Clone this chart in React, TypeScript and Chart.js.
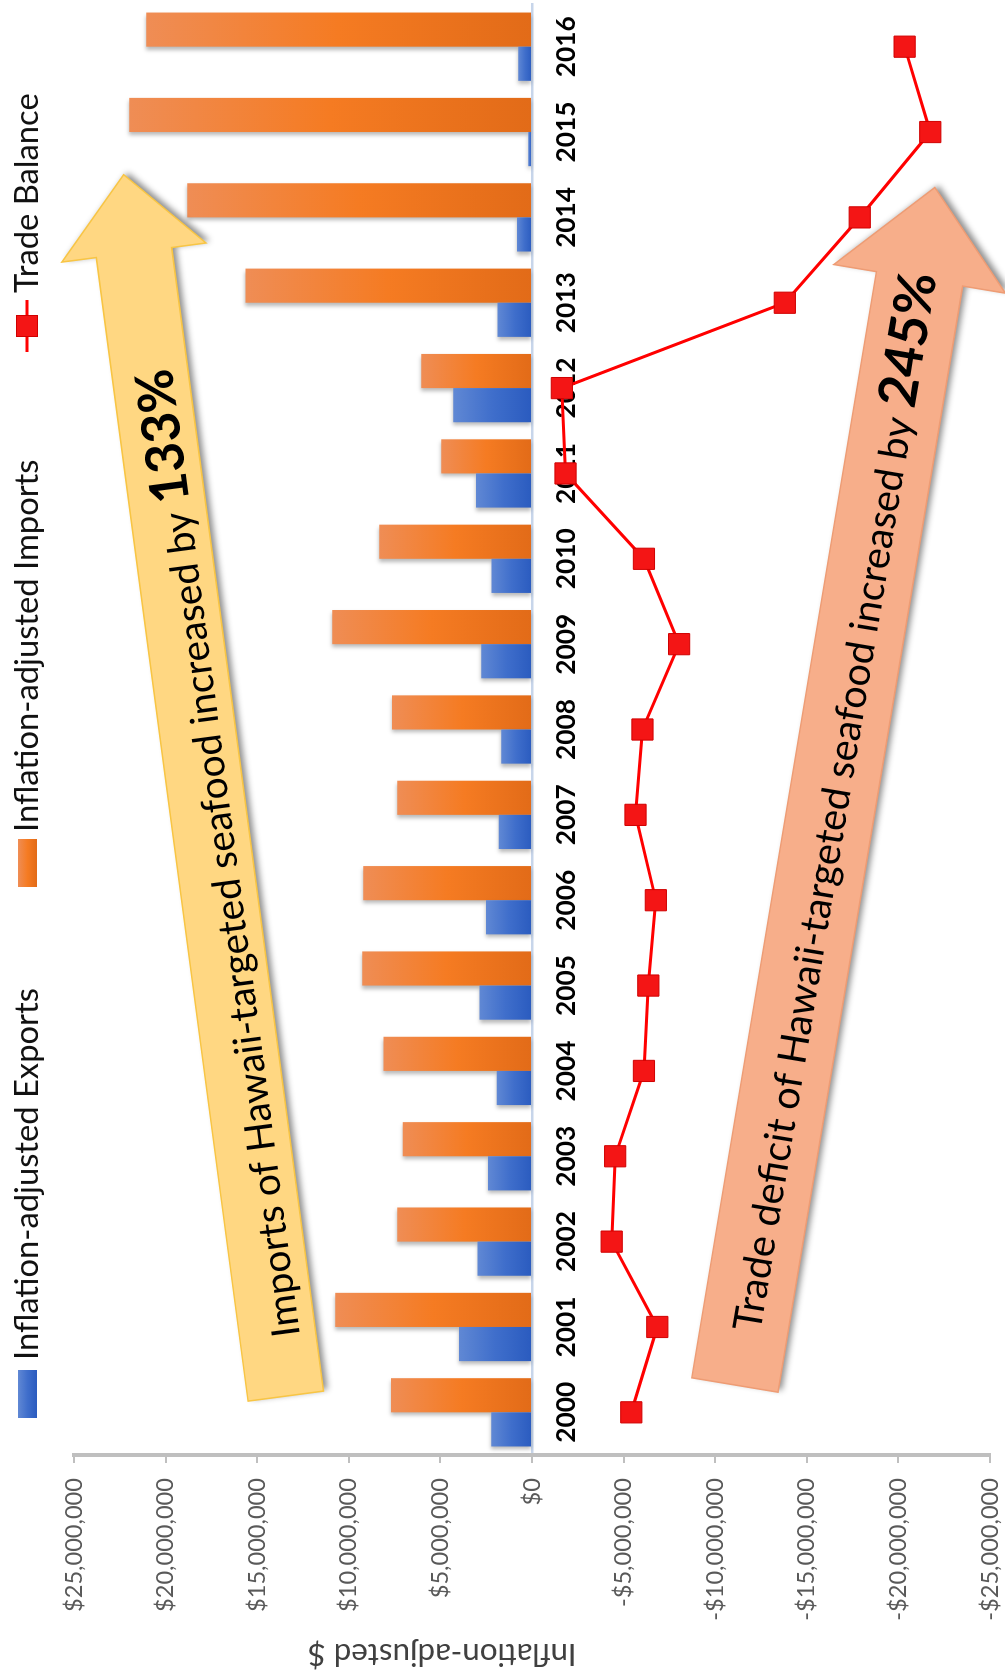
import React, { useEffect, useRef } from 'react';
import { Chart, registerables } from 'chart.js';

Chart.register(...registerables);

// ---------------- data ----------------
const YEARS = ['2000', '2001', '2002', '2003', '2004', '2005', '2006', '2007', '2008', '2009', '2010', '2011', '2012', '2013', '2014', '2015', '2016'];
const EXPORTS = [2220000, 3990000, 2970000, 2400000, 1930000, 2860000, 2510000, 1810000, 1680000, 2770000, 2210000, 3050000, 4300000, 1880000, 820000, 200000, 750000];
const IMPORTS = [7690000, 10740000, 7360000, 7060000, 8110000, 9270000, 9210000, 7350000, 7640000, 10900000, 8340000, 4960000, 6040000, 15640000, 18820000, 21980000, 21060000];
const TRADE_BALANCE = [-5420000, -6840000, -4350000, -4540000, -6110000, -6350000, -6760000, -5650000, -6030000, -8030000, -6110000, -1830000, -1630000, -13800000, -17890000, -21740000, -20340000];
const SERIES_NAMES = ['Inflation-adjusted Exports', 'Inflation-adjusted Imports', 'Trade Balance'];
const VALUE_TICKS = [-25000000, -20000000, -15000000, -10000000, -5000000, 0, 5000000, 10000000, 15000000, 20000000, 25000000];
const AXIS_TITLE = 'Inflation-adjusted $';

// annotation arrows (anchored in data space: [category index, value])
const ARROW_TEXTS = ['Imports of Hawaii-targeted seafood increased by ', 'Trade deficit of Hawaii-targeted seafood increased by '];
const ARROW_HIGHLIGHTS = ['133%', '245%'];
const ARROW_TAILS = [[0.19, 13440000], [0.32, -11080000]];
const ARROW_TIPS = [[14.5, 22290000], [14.35, -21990000]];

// ---------------- style ----------------
const FAMILY = 'Lato, "Open Sans", "DejaVu Sans", sans-serif';
const CANVAS_W = 1675;
const CANVAS_H = 1005;
const PLOT_LEFT = 220;

const BLUE_STOPS = ['#6088D4', '#3F6ECB', '#2A5BBF'];
const ORANGE_STOPS = ['#EF8D55', '#F57B22', '#E26B18'];

const ARROW_STYLES = [
  { fill: '#FFD782', stroke: '#F8C544', halfShaft: 38, halfHead: 72.7, headLen: 78.5, textStart: 58.5, textShift: 8, regLen: 842, boldLen: 134.7 },
  { fill: '#F7AE8A', stroke: '#EE9C74', halfShaft: 43.7, halfHead: 87, headLen: 92.6, textStart: 55.8, textShift: 2, regLen: 936, boldLen: 136 },
];

const LEGEND = {
  boxStart: [257, 788, 1323],
  textStart: [315, 843, 1382],
  boxLen: 48,
  boxTop: 18,
  boxThick: 19,
  centerY: 27,
  baseline: 38,
  textLen: 372,
};

const TITLE_POS = { x: 21, y: 442, len: 269 };

function fitSize(text: string, weight: string, target: number): number {
  const c = document.createElement('canvas').getContext('2d') as CanvasRenderingContext2D;
  c.font = `${weight} 100px ${FAMILY}`;
  return (100 * target) / c.measureText(text).width;
}

function fmtMoney(v: number): string {
  if (v === 0) return '$0';
  return (v < 0 ? '-$' : '$') + Math.abs(v).toLocaleString('en-US');
}

function barGradient(stops: string[]) {
  return (c: any) => {
    const chart = c.chart;
    if (!chart.chartArea || c.type !== 'data' || !chart.scales.y) return stops[1];
    const ys = chart.scales.y;
    const y0 = ys.getPixelForValue(0);
    const y1 = ys.getPixelForValue(c.raw as number);
    if (!isFinite(y0) || !isFinite(y1) || Math.abs(y1 - y0) < 1) return stops[1];
    const g = chart.ctx.createLinearGradient(0, y1, 0, y0);
    g.addColorStop(0, stops[0]);
    g.addColorStop(0.5, stops[1]);
    g.addColorStop(1, stops[2]);
    return g;
  };
}

const decorPlugin = {
  id: 'decor',
  beforeDatasetDraw(chart: any, args: any) {
    const ctx = chart.ctx;
    ctx.save();
    if (args.meta.type === 'bar') {
      ctx.shadowColor = 'rgba(0,0,0,0.28)';
      ctx.shadowBlur = 4;
      ctx.shadowOffsetX = -3;
      ctx.shadowOffsetY = 0;
    }
  },
  afterDatasetDraw(chart: any) {
    chart.ctx.restore();
  },
  afterDatasetsDraw(chart: any) {
    const ctx: CanvasRenderingContext2D = chart.ctx;
    const xs = chart.scales.x;
    const ys = chart.scales.y;
    ARROW_TEXTS.forEach((txt, i) => {
      const st = ARROW_STYLES[i];
      const T = { x: xs.getPixelForValue(ARROW_TAILS[i][0]), y: ys.getPixelForValue(ARROW_TAILS[i][1]) };
      const P = { x: xs.getPixelForValue(ARROW_TIPS[i][0]), y: ys.getPixelForValue(ARROW_TIPS[i][1]) };
      const dx = P.x - T.x;
      const dy = P.y - T.y;
      const len = Math.hypot(dx, dy);
      const ux = dx / len;
      const uy = dy / len;
      const nx = -uy;
      const ny = ux;
      const B = { x: P.x - ux * st.headLen, y: P.y - uy * st.headLen };
      const hs = st.halfShaft;
      const hh = st.halfHead;
      const pts = [
        [T.x + nx * hs, T.y + ny * hs],
        [B.x + nx * hs, B.y + ny * hs],
        [B.x + nx * hh, B.y + ny * hh],
        [P.x, P.y],
        [B.x - nx * hh, B.y - ny * hh],
        [B.x - nx * hs, B.y - ny * hs],
        [T.x - nx * hs, T.y - ny * hs],
      ];
      ctx.save();
      ctx.beginPath();
      pts.forEach((p, k) => (k === 0 ? ctx.moveTo(p[0], p[1]) : ctx.lineTo(p[0], p[1])));
      ctx.closePath();
      ctx.shadowColor = 'rgba(0,0,0,0.45)';
      ctx.shadowBlur = 6;
      ctx.shadowOffsetX = 2;
      ctx.shadowOffsetY = 4;
      ctx.fillStyle = st.fill;
      ctx.fill();
      ctx.shadowColor = 'transparent';
      ctx.lineWidth = 1.5;
      ctx.strokeStyle = st.stroke;
      ctx.stroke();

      const regSize = fitSize(txt, 'normal', st.regLen);
      const boldSize = fitSize(ARROW_HIGHLIGHTS[i], 'bold', st.boldLen);
      ctx.translate(T.x + ux * st.textStart + nx * st.textShift, T.y + uy * st.textStart + ny * st.textShift);
      ctx.rotate(Math.atan2(uy, ux));
      ctx.fillStyle = '#000';
      ctx.textAlign = 'left';
      ctx.textBaseline = 'alphabetic';
      const base = regSize * 0.36;
      ctx.font = `normal ${regSize}px ${FAMILY}`;
      ctx.fillText(txt, 0, base);
      const w = ctx.measureText(txt).width;
      ctx.font = `bold ${boldSize}px ${FAMILY}`;
      ctx.fillText(ARROW_HIGHLIGHTS[i], w, base);
      ctx.restore();
    });
  },
  afterDraw(chart: any) {
    const ctx: CanvasRenderingContext2D = chart.ctx;
    // axis title (rotated)
    ctx.save();
    const tSize = fitSize(AXIS_TITLE, 'normal', TITLE_POS.len);
    ctx.translate(TITLE_POS.x, TITLE_POS.y);
    ctx.rotate(-Math.PI / 2);
    ctx.font = `normal ${tSize}px ${FAMILY}`;
    ctx.fillStyle = '#404040';
    ctx.textAlign = 'center';
    ctx.textBaseline = 'middle';
    ctx.fillText(AXIS_TITLE, 0, 0);
    ctx.restore();

    // legend
    ctx.save();
    const lSize = fitSize(SERIES_NAMES[0], 'normal', LEGEND.textLen);
    const fills = [BLUE_STOPS, ORANGE_STOPS];
    for (let i = 0; i < 2; i++) {
      const x0 = LEGEND.boxStart[i];
      const g = ctx.createLinearGradient(0, LEGEND.boxTop, 0, LEGEND.boxTop + LEGEND.boxThick);
      g.addColorStop(0, fills[i][0]);
      g.addColorStop(0.5, fills[i][1]);
      g.addColorStop(1, fills[i][2]);
      ctx.fillStyle = g;
      ctx.fillRect(x0, LEGEND.boxTop, LEGEND.boxLen, LEGEND.boxThick);
    }
    const lx = LEGEND.boxStart[2];
    ctx.strokeStyle = '#FF0000';
    ctx.lineWidth = 3;
    ctx.beginPath();
    ctx.moveTo(lx, LEGEND.centerY);
    ctx.lineTo(lx + 52, LEGEND.centerY);
    ctx.stroke();
    ctx.fillStyle = '#F41515';
    ctx.fillRect(lx + 26 - 10.5, LEGEND.centerY - 10.5, 21, 21);
    ctx.strokeStyle = '#D00000';
    ctx.lineWidth = 1;
    ctx.strokeRect(lx + 26 - 10.5, LEGEND.centerY - 10.5, 21, 21);

    ctx.font = `normal ${lSize}px ${FAMILY}`;
    ctx.fillStyle = '#111';
    ctx.textAlign = 'left';
    ctx.textBaseline = 'alphabetic';
    SERIES_NAMES.forEach((name, i) => ctx.fillText(name, LEGEND.textStart[i], LEGEND.baseline));
    ctx.restore();
  },
};

export default function App() {
  const ref = useRef<HTMLCanvasElement>(null);

  useEffect(() => {
    const canvas = ref.current;
    if (!canvas) return;
    Chart.defaults.font.family = FAMILY;
    const tickSize = fitSize(fmtMoney(25000000), 'normal', 134);
    const catSize = fitSize(YEARS[0], 'bold', 61);

    const chart = new Chart(canvas, {
      type: 'bar',
      data: {
        labels: YEARS,
        datasets: [
          {
            type: 'bar',
            label: SERIES_NAMES[0],
            data: EXPORTS,
            backgroundColor: barGradient(BLUE_STOPS),
            borderWidth: 0,
            categoryPercentage: 0.8,
            barPercentage: 1,
            order: 1,
          },
          {
            type: 'bar',
            label: SERIES_NAMES[1],
            data: IMPORTS,
            backgroundColor: barGradient(ORANGE_STOPS),
            borderWidth: 0,
            categoryPercentage: 0.8,
            barPercentage: 1,
            order: 1,
          },
          {
            type: 'line',
            label: SERIES_NAMES[2],
            data: TRADE_BALANCE,
            borderColor: '#FF0000',
            borderWidth: 3,
            tension: 0,
            pointStyle: 'rect',
            pointRadius: 15,
            pointBackgroundColor: '#F41515',
            pointBorderColor: '#D00000',
            pointBorderWidth: 1,
            order: 0,
          } as any,
        ],
      },
      options: {
        responsive: false,
        maintainAspectRatio: false,
        animation: false,
        devicePixelRatio: 1,
        events: [],
        layout: { autoPadding: false, padding: { top: 74, right: 4, bottom: 15, left: 0 } } as any,
        plugins: {
          legend: { display: false },
          tooltip: { enabled: false },
          title: { display: false },
        },
        scales: {
          x: {
            type: 'category',
            offset: true,
            position: { y: 0 } as any,
            z: 1,
            grid: { display: false, drawTicks: false },
            border: { display: true, color: '#C7D5EA', width: 2.5 },
            ticks: {
              autoSkip: false,
              maxRotation: 0,
              minRotation: 0,
              padding: 19,
              color: '#000',
              font: { family: FAMILY, size: catSize, weight: 'bold' },
            },
            afterFit(s: any) {
              s.paddingLeft = 0;
              s.paddingRight = 0;
            },
          },
          y: {
            type: 'linear',
            position: 'left',
            min: VALUE_TICKS[0],
            max: VALUE_TICKS[VALUE_TICKS.length - 1],
            afterBuildTicks(s: any) {
              s.ticks = VALUE_TICKS.map((v) => ({ value: v }));
            },
            afterFit(s: any) {
              s.width = PLOT_LEFT;
              s.paddingTop = 0;
              s.paddingBottom = 0;
            },
            grid: { drawOnChartArea: false, drawTicks: true, tickLength: 8, color: '#BFBFBF', lineWidth: 2 },
            border: { display: true, color: '#BFBFBF', width: 4 },
            ticks: {
              padding: 15,
              color: '#595959',
              font: { family: FAMILY, size: tickSize },
              callback: (v: any) => fmtMoney(Number(v)),
            },
          },
        },
      },
      plugins: [decorPlugin],
    });
    return () => chart.destroy();
  }, []);

  return (
    <div style={{ position: 'absolute', left: 0, top: 0, width: 1005, height: 1675, overflow: 'hidden', background: '#fff' }}>
      <canvas
        ref={ref}
        width={CANVAS_W}
        height={CANVAS_H}
        style={{
          position: 'absolute',
          left: 0,
          top: 0,
          width: `${CANVAS_W}px`,
          height: `${CANVAS_H}px`,
          transformOrigin: '0 0',
          transform: `translate(0px, ${CANVAS_W}px) rotate(-90deg)`,
        }}
      />
    </div>
  );
}
